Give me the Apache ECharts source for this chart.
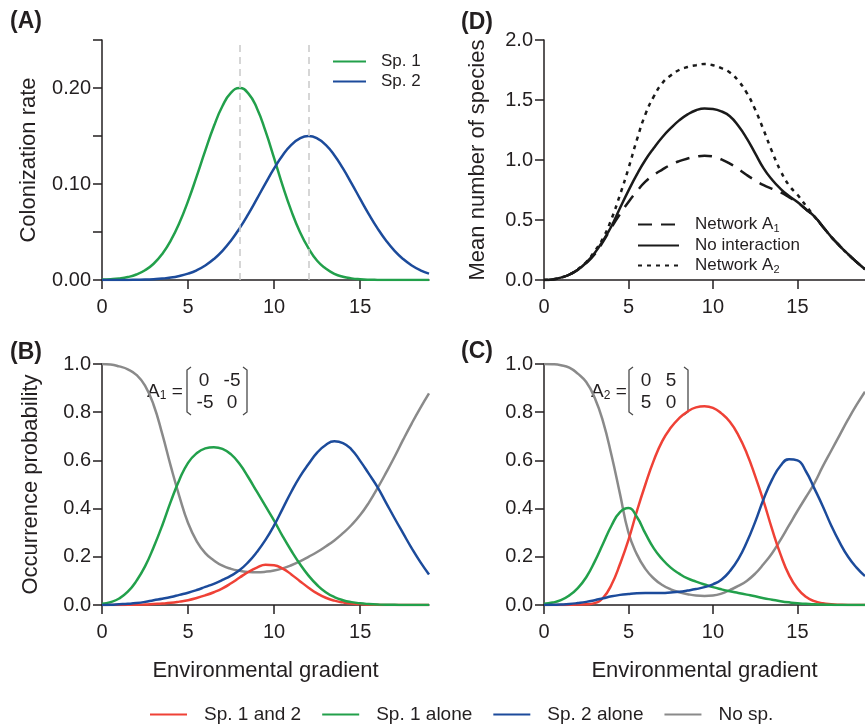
<!DOCTYPE html>
<html>
<head>
<meta charset="utf-8">
<script src="https://cdn.jsdelivr.net/npm/echarts@6/dist/echarts.min.js"></script>
<style>
html, body { margin: 0; padding: 0; background: #fff; }
#chart { width: 865px; height: 724px; }
</style>
</head>
<body>
<div id="chart"></div>
<script>
// environmental gradient, sampled every half unit (shared by all panels)
var grad = [0, 0.5, 1, 1.5, 2, 2.5, 3, 3.5, 4, 4.5, 5, 5.5, 6, 6.5, 7, 7.5, 8, 8.5, 9, 9.5, 10, 10.5, 11, 11.5, 12, 12.5, 13, 13.5, 14, 14.5, 15, 15.5, 16, 16.5, 17, 17.5, 18, 18.5, 19];

// (A) colonization rate
var colSp1 = [0.0004, 0.0008, 0.0016, 0.0031, 0.0057, 0.0101, 0.0169, 0.0271, 0.0412, 0.0596, 0.0822, 0.1079, 0.1347, 0.1601, 0.1812, 0.1951, 0.2, 0.1944, 0.179, 0.155, 0.127, 0.098, 0.072, 0.050, 0.033, 0.020, 0.012, 0.0065, 0.0034, 0.0017, 0.0008, 0.0003, 0.0001, 0, 0, 0, 0, 0, 0];
var colSp2 = [0, 0, 0.0001, 0.0001, 0.0003, 0.0005, 0.0009, 0.0015, 0.0025, 0.0042, 0.0066, 0.0101, 0.0151, 0.0218, 0.0304, 0.0412, 0.0541, 0.0687, 0.0845, 0.1007, 0.1162, 0.13, 0.1407, 0.1476, 0.15, 0.1476, 0.1407, 0.13, 0.1162, 0.1007, 0.0845, 0.0687, 0.0541, 0.0412, 0.0304, 0.0218, 0.0151, 0.0101, 0.0066];
var optimaA = [8, 12];

// (B) occurrence probability, network A1
var bothB = [0, 0, 0, 0.001, 0.001, 0.002, 0.004, 0.006, 0.009, 0.014, 0.02, 0.029, 0.04, 0.053, 0.069, 0.09, 0.114, 0.137, 0.155, 0.167, 0.165, 0.151, 0.127, 0.099, 0.072, 0.048, 0.03, 0.018, 0.011, 0.006, 0.004, 0.002, 0.001, 0, 0, 0, 0, 0, 0];
var sp1B = [0.005, 0.012, 0.027, 0.055, 0.10, 0.16, 0.24, 0.33, 0.43, 0.52, 0.59, 0.63, 0.65, 0.655, 0.648, 0.625, 0.585, 0.53, 0.47, 0.41, 0.35, 0.285, 0.225, 0.17, 0.122, 0.083, 0.053, 0.033, 0.02, 0.012, 0.007, 0.004, 0.002, 0.001, 0.001, 0, 0, 0, 0];
var sp2B = [0, 0.001, 0.003, 0.005, 0.008, 0.013, 0.02, 0.026, 0.033, 0.042, 0.051, 0.062, 0.075, 0.088, 0.104, 0.122, 0.145, 0.178, 0.22, 0.27, 0.33, 0.40, 0.47, 0.533, 0.585, 0.632, 0.664, 0.679, 0.672, 0.645, 0.598, 0.545, 0.49, 0.425, 0.36, 0.297, 0.235, 0.178, 0.127];
var noneB = [1, 0.998, 0.99, 0.978, 0.955, 0.91, 0.83, 0.71, 0.575, 0.45, 0.34, 0.265, 0.215, 0.185, 0.163, 0.15, 0.142, 0.137, 0.136, 0.138, 0.143, 0.152, 0.165, 0.181, 0.2, 0.22, 0.243, 0.268, 0.298, 0.332, 0.373, 0.424, 0.484, 0.548, 0.615, 0.686, 0.754, 0.818, 0.878];

// (C) occurrence probability, network A2
var bothC = [0, 0, 0, 0.001, 0.002, 0.003, 0.008, 0.03, 0.085, 0.17, 0.27, 0.39, 0.5, 0.6, 0.68, 0.735, 0.775, 0.803, 0.82, 0.825, 0.818, 0.795, 0.76, 0.705, 0.63, 0.535, 0.43, 0.315, 0.21, 0.125, 0.068, 0.034, 0.016, 0.007, 0.003, 0.001, 0, 0, 0];
var sp1C = [0.005, 0.01, 0.02, 0.04, 0.07, 0.115, 0.18, 0.255, 0.33, 0.385, 0.402, 0.365, 0.297, 0.235, 0.19, 0.155, 0.13, 0.11, 0.097, 0.085, 0.074, 0.065, 0.057, 0.05, 0.043, 0.036, 0.028, 0.022, 0.016, 0.011, 0.007, 0.005, 0.003, 0.002, 0.001, 0, 0, 0, 0];
var sp2C = [0, 0.001, 0.002, 0.004, 0.008, 0.013, 0.02, 0.028, 0.036, 0.042, 0.046, 0.049, 0.05, 0.05, 0.05, 0.052, 0.055, 0.06, 0.066, 0.074, 0.086, 0.105, 0.14, 0.19, 0.26, 0.345, 0.44, 0.52, 0.578, 0.605, 0.6, 0.555, 0.484, 0.41, 0.33, 0.26, 0.2, 0.155, 0.12];
var noneC = [1, 0.999, 0.995, 0.985, 0.96, 0.925, 0.86, 0.76, 0.62, 0.46, 0.3, 0.21, 0.15, 0.11, 0.083, 0.065, 0.053, 0.045, 0.039, 0.037, 0.039, 0.047, 0.062, 0.079, 0.1, 0.13, 0.17, 0.215, 0.27, 0.33, 0.39, 0.447, 0.505, 0.575, 0.64, 0.705, 0.77, 0.83, 0.885];

// (D) mean number of species
var richA1 = [0, 0.005, 0.02, 0.045, 0.085, 0.14, 0.215, 0.32, 0.44, 0.55, 0.65, 0.74, 0.82, 0.875, 0.92, 0.96, 0.99, 1.012, 1.027, 1.035, 1.03, 1.005, 0.97, 0.925, 0.875, 0.83, 0.79, 0.76, 0.73, 0.69, 0.645, 0.59, 0.53, 0.445, 0.36, 0.285, 0.215, 0.15, 0.09];
var richNone = [0, 0.005, 0.02, 0.045, 0.085, 0.145, 0.225, 0.33, 0.45, 0.6, 0.745, 0.88, 1.0, 1.1, 1.19, 1.265, 1.33, 1.38, 1.415, 1.43, 1.425, 1.405, 1.365, 1.285, 1.18, 1.055, 0.93, 0.835, 0.76, 0.70, 0.65, 0.59, 0.53, 0.445, 0.36, 0.285, 0.215, 0.15, 0.09];
var richA2 = [0, 0.005, 0.02, 0.045, 0.09, 0.15, 0.24, 0.35, 0.51, 0.71, 0.93, 1.17, 1.38, 1.53, 1.64, 1.705, 1.75, 1.775, 1.79, 1.80, 1.79, 1.765, 1.73, 1.66, 1.56, 1.42, 1.25, 1.07, 0.91, 0.79, 0.71, 0.62, 0.53, 0.445, 0.36, 0.285, 0.215, 0.15, 0.09];

var xTicks = [0, 5, 10, 15];
var rateTicks = [0, 0.05, 0.1, 0.15, 0.2, 0.25];
var rateLabels = [0, 0.1, 0.2];
var countTicks = [0, 0.5, 1, 1.5, 2];
var probTicks = [0, 0.2, 0.4, 0.6, 0.8, 1];

var ink = '#231f20';
var font = '"Liberation Sans", Arial, sans-serif';
var cRed = '#ef4136', cGreen = '#22a04b', cBlue = '#1c4b9b', cGray = '#8a8a8a';

function pairs(xs, ys) {
	var out = [];
	for(var i = 0; i < xs.length; i++) {
		out.push([xs[i], ys[i]]);
	}
	return out;
}

function xAxisFor(idx, name) {
	return {
		gridIndex: idx,
		type: 'value',
		min: 0,
		max: 19,
		interval: 5,
		name: name || '',
		nameLocation: 'middle',
		nameGap: 55,
		nameTextStyle: { color: ink, fontSize: 22, fontFamily: font },
		axisLine: { show: true, onZero: false, lineStyle: { color: ink, width: 1.5 } },
		axisTick: { show: true, length: 9, customValues: xTicks, lineStyle: { color: ink, width: 1.5 } },
		axisLabel: { color: ink, fontSize: 20, fontFamily: font, margin: 17, customValues: xTicks },
		splitLine: { show: false }
	};
}

function yAxisFor(idx, max, ticks, labels, digits, name, gap) {
	return {
		gridIndex: idx,
		type: 'value',
		min: 0,
		max: max,
		name: name || '',
		nameLocation: 'middle',
		nameGap: gap || 60,
		nameTextStyle: { color: ink, fontSize: 22, fontFamily: font },
		axisLine: { show: true, onZero: false, lineStyle: { color: ink, width: 1.5 } },
		axisTick: { show: true, length: 9, customValues: ticks, lineStyle: { color: ink, width: 1.5 } },
		axisLabel: {
			color: ink, fontSize: 20, fontFamily: font, margin: 11, customValues: labels,
			formatter: function(v) { return v.toFixed(digits); }
		},
		splitLine: { show: false }
	};
}

function curve(name, grid, ys, color, dash) {
	return {
		name: name,
		type: 'line',
		xAxisIndex: grid,
		yAxisIndex: grid,
		data: pairs(grad, ys),
		smooth: 0.5,
		symbol: 'none',
		silent: true,
		lineStyle: { color: color, width: 2.5, type: dash || 'solid' },
		itemStyle: { color: color }
	};
}

var myChart = echarts.init(document.getElementById('chart'), null, { renderer: 'canvas' });

var seriesA1 = curve('Sp. 1', 0, colSp1, cGreen);
seriesA1.markLine = {
	silent: true,
	symbol: 'none',
	label: { show: false },
	lineStyle: { color: '#c9c9c9', width: 1.5, type: [7, 5] },
	data: optimaA.map(function(v) { return { xAxis: v }; })
};

var subRich = {
	t: { fontSize: 17, color: ink, fontFamily: font },
	s: { fontSize: 11, color: ink, fontFamily: font, padding: [8, 0, 0, 0] }
};

function bracket(x, dir) {
	return {
		type: 'polyline',
		silent: true,
		shape: { points: [[x + 4 * dir, 367], [x, 370], [x, 412], [x + 4 * dir, 415]] },
		style: { stroke: '#4a4a4a', lineWidth: 1.3, fill: null }
	};
}

function cell(txt, x, y) {
	return {
		type: 'text', silent: true,
		style: { text: txt, x: x, y: y, align: 'center', verticalAlign: 'middle', fontSize: 19, fontFamily: font, fill: ink }
	};
}

function panelTag(txt, x, y) {
	return {
		type: 'text', silent: true,
		style: { text: txt, x: x, y: y, verticalAlign: 'middle', fontSize: 23, fontWeight: 'bold', fontFamily: font, fill: ink }
	};
}

function matrixName(sub, x) {
	return {
		type: 'text', silent: true,
		style: {
			text: '{t|A}{s|' + sub + '}{t| =}', x: x, y: 392, verticalAlign: 'middle',
			rich: {
				t: { fontSize: 19, fill: ink, fontFamily: font },
				s: { fontSize: 12, fill: ink, fontFamily: font, padding: [8, 0, 0, 0] }
			}
		}
	};
}

var option = {
	animation: false,
	backgroundColor: '#fff',
	textStyle: { fontFamily: font },
	grid: [
		{ left: 102, top: 40, width: 327, height: 240 },
		{ left: 544, top: 40, width: 327, height: 240 },
		{ left: 102, top: 364, width: 327, height: 241 },
		{ left: 544, top: 364, width: 327, height: 241 }
	],
	xAxis: [
		xAxisFor(0),
		xAxisFor(1),
		xAxisFor(2, 'Environmental gradient'),
		xAxisFor(3, 'Environmental gradient')
	],
	yAxis: [
		yAxisFor(0, 0.25, rateTicks, rateLabels, 2, 'Colonization rate', 62),
		yAxisFor(1, 2, countTicks, countTicks, 1, 'Mean number of species', 55),
		yAxisFor(2, 1, probTicks, probTicks, 1, 'Occurrence probability', 60),
		yAxisFor(3, 1, probTicks, probTicks, 1, '', 60)
	],
	legend: [{
		data: ['Sp. 1', 'Sp. 2'],
		orient: 'vertical',
		left: 327,
		top: 48,
		itemWidth: 33,
		itemHeight: 10,
		itemGap: 3,
		selectedMode: false,
		itemStyle: { opacity: 0 },
		textStyle: { color: ink, fontSize: 17, fontFamily: font, padding: [0, 0, 0, 10] }
	}, {
		data: ['Network A1', 'No interaction', 'Network A2'],
		orient: 'vertical',
		left: 632,
		top: 211,
		itemWidth: 41,
		itemHeight: 10,
		itemGap: 3,
		selectedMode: false,
		itemStyle: { opacity: 0 },
		formatter: function(name) {
			if(name == 'Network A1') return '{t|Network A}{s|1}';
			if(name == 'Network A2') return '{t|Network A}{s|2}';
			return '{t|' + name + '}';
		},
		textStyle: { color: ink, fontSize: 17, fontFamily: font, padding: [0, 0, 0, 11], rich: subRich }
	}, {
		data: ['Sp. 1 and 2', 'Sp. 1 alone', 'Sp. 2 alone', 'No sp.'],
		orient: 'horizontal',
		left: 144,
		top: 700,
		itemWidth: 37,
		itemHeight: 10,
		itemGap: 20,
		selectedMode: false,
		itemStyle: { opacity: 0 },
		textStyle: { color: ink, fontSize: 19, fontFamily: font, padding: [0, 0, 0, 12] }
	}],
	series: [
		seriesA1,
		curve('Sp. 2', 0, colSp2, cBlue),

		curve('Network A1', 1, richA1, '#1a1a1a', [14, 9]),
		curve('No interaction', 1, richNone, '#1a1a1a'),
		curve('Network A2', 1, richA2, '#1a1a1a', [4, 5]),

		curve('No sp.', 2, noneB, cGray),
		curve('Sp. 1 and 2', 2, bothB, cRed),
		curve('Sp. 1 alone', 2, sp1B, cGreen),
		curve('Sp. 2 alone', 2, sp2B, cBlue),

		curve('No sp.', 3, noneC, cGray),
		curve('Sp. 1 and 2', 3, bothC, cRed),
		curve('Sp. 1 alone', 3, sp1C, cGreen),
		curve('Sp. 2 alone', 3, sp2C, cBlue)
	],
	graphic: [
		panelTag('(A)', 10, 22),
		panelTag('(D)', 461, 23),
		panelTag('(B)', 10, 353),
		panelTag('(C)', 461, 352),

		matrixName('1', 147),
		bracket(187, 1),
		bracket(247, -1),
		cell('0', 204, 381), cell('-5', 232, 381),
		cell('-5', 205, 403), cell('0', 232, 403),

		matrixName('2', 591),
		bracket(629, 1),
		bracket(688, -1),
		cell('0', 646, 381), cell('5', 671, 381),
		cell('5', 646, 403), cell('0', 671, 403)
	]
};

myChart.setOption(option);
window.onresize = function() {
	myChart.resize();
};
</script>
</body>
</html>
